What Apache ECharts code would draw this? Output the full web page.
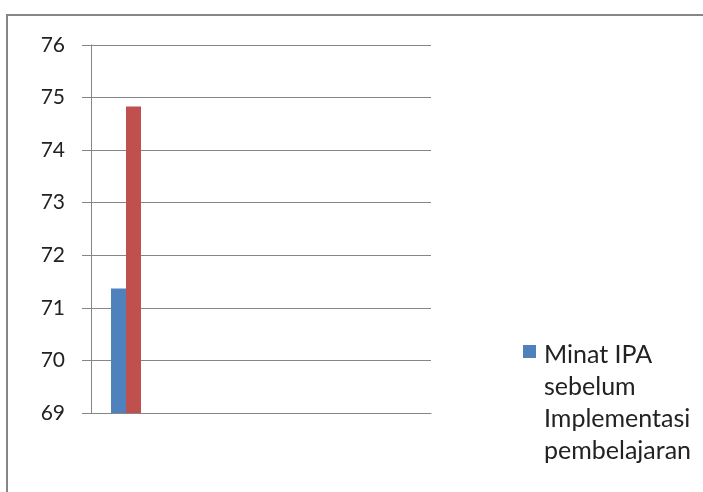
<!DOCTYPE html>
<html>
<head>
    <meta charset="UTF-8">
    <title></title>
    <script src="https://cdn.jsdelivr.net/npm/echarts@6/dist/echarts.min.js"></script>
    <style>
        html, body { margin: 0; padding: 0; background: #fff; }
        #container { width: 703px; height: 492px; }
    </style>
</head>
<body>
    <div id="container"></div>
    <script type="text/javascript">
        // chart data
        var categories = ['1', '2', '3', '4'];
        var seriesNames = ['Minat IPA sebelum Implementasi pembelajaran', 'Minat IPA sesudah Implementasi pembelajaran', 'Seri 3'];
        var beforeValues = [71.37, null, null, null];
        var afterValues = [74.83, null, null, null];
        var thirdValues = [null, null, null, null];
        var yTicks = { min: 69, max: 76, step: 1 };

        var gray = '#868686';
        var font = 'Lato, "Liberation Sans", sans-serif';

        var myChart = echarts.init(document.getElementById('container'));
        var option = {
            animation: false,
            graphic: [{
                type: 'rect',
                shape: { x: 7, y: 15, width: 760, height: 540 },
                style: { fill: 'none', stroke: gray, lineWidth: 2 },
                silent: true
            }],
            grid: { left: 91, right: 272, top: 45, bottom: 79 },
            legend: {
                data: [seriesNames[0]],
                left: 523,
                top: 339,
                padding: 0,
                orient: 'vertical',
                // square sits at the top of the tall item so it lines up with the first text line
                icon: 'path://M6,0H6.01V0.01H6Z M0,6H13V19H0Z M6,127.99H6.01V128H6Z',
                itemWidth: 13,
                itemHeight: 128,
                formatter: function () {
                    return 'Minat IPA\nsebelum\nImplementasi\npembelajaran';
                },
                textStyle: {
                    fontFamily: font,
                    fontSize: 25,
                    color: '#222',
                    lineHeight: 32,
                    padding: [0, 0, 0, 3]
                }
            },
            xAxis: {
                type: 'category',
                data: categories,
                axisLine: { lineStyle: { color: gray } },
                axisTick: { length: 7, lineStyle: { color: gray } },
                axisLabel: { show: false }
            },
            yAxis: {
                type: 'value',
                min: yTicks.min,
                max: yTicks.max,
                interval: yTicks.step,
                axisLine: { show: true, lineStyle: { color: gray } },
                axisTick: { show: true, length: 9, lineStyle: { color: gray } },
                axisLabel: { fontFamily: font, fontSize: 21, color: '#222', margin: 26 },
                splitLine: { lineStyle: { color: gray } }
            },
            series: [{
                name: seriesNames[0],
                type: 'bar',
                data: beforeValues,
                barWidth: 15,
                barGap: 0,
                itemStyle: { color: '#4F81BD' }
            }, {
                name: seriesNames[1],
                type: 'bar',
                data: afterValues,
                barWidth: 15,
                barGap: 0,
                itemStyle: { color: '#C0504D' }
            }, {
                name: seriesNames[2],
                type: 'bar',
                data: thirdValues,
                barWidth: 15,
                barGap: 0,
                itemStyle: { color: '#9BBB59' }
            }]
        };
        myChart.setOption(option);
    </script>
</body>
</html>
